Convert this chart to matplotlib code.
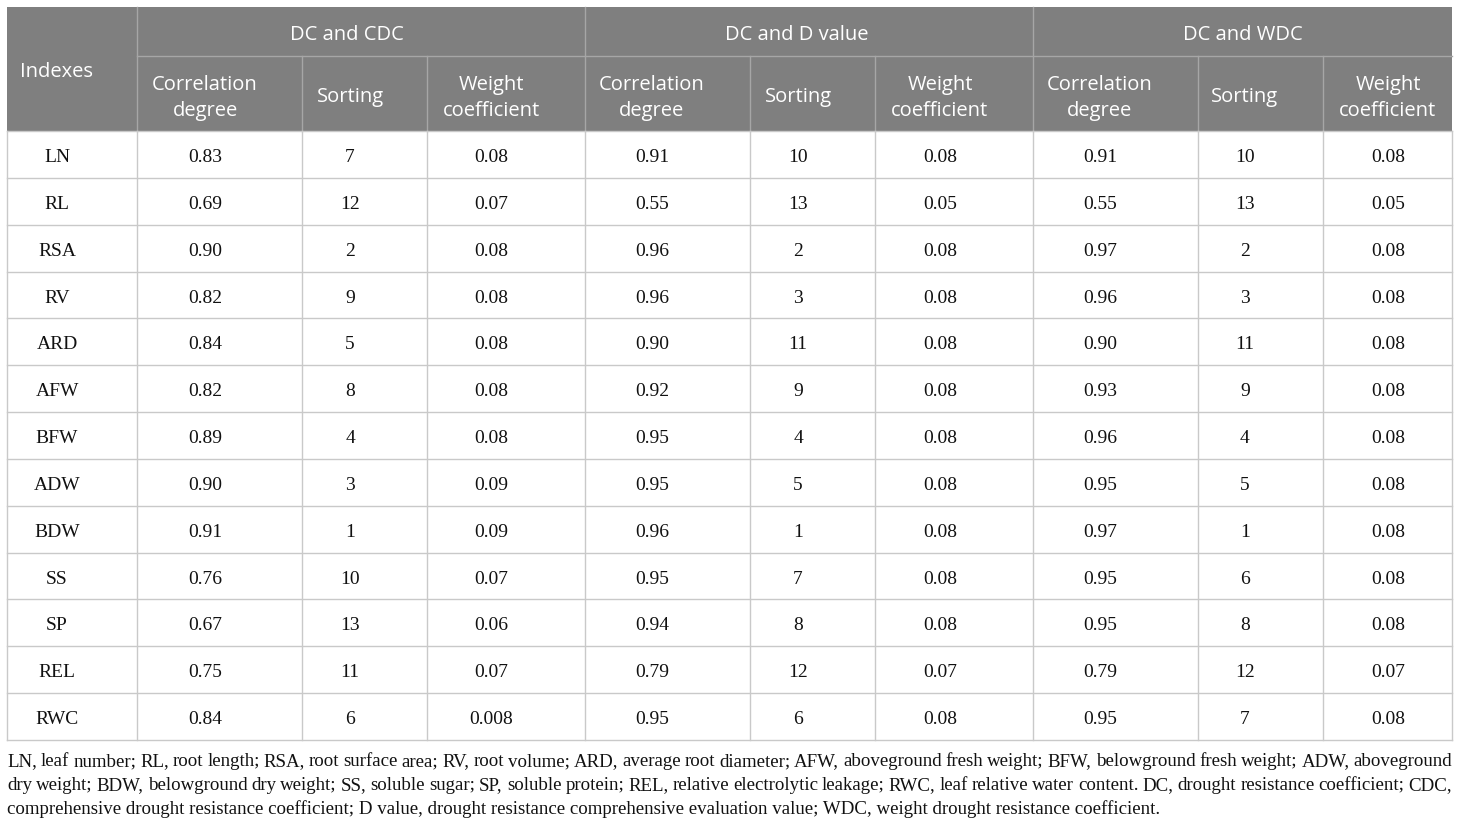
import matplotlib
matplotlib.use("Agg")
import matplotlib.pyplot as plt
from matplotlib.patches import Rectangle

# ---------------- data ----------------
indexes = ["LN", "RL", "RSA", "RV", "ARD", "AFW", "BFW", "ADW", "BDW", "SS", "SP", "REL", "RWC"]
group_labels = ["DC and CDC", "DC and D value", "DC and WDC"]
sub_labels = [["Correlation", "degree"], ["Sorting"], ["Weight", "coefficient"]]

cdc_corr = ["0.83", "0.69", "0.90", "0.82", "0.84", "0.82", "0.89", "0.90", "0.91", "0.76", "0.67", "0.75", "0.84"]
cdc_sort = ["7", "12", "2", "9", "5", "8", "4", "3", "1", "10", "13", "11", "6"]
cdc_weight = ["0.08", "0.07", "0.08", "0.08", "0.08", "0.08", "0.08", "0.09", "0.09", "0.07", "0.06", "0.07", "0.008"]

d_corr = ["0.91", "0.55", "0.96", "0.96", "0.90", "0.92", "0.95", "0.95", "0.96", "0.95", "0.94", "0.79", "0.95"]
d_sort = ["10", "13", "2", "3", "11", "9", "4", "5", "1", "7", "8", "12", "6"]
d_weight = ["0.08", "0.05", "0.08", "0.08", "0.08", "0.08", "0.08", "0.08", "0.08", "0.08", "0.08", "0.07", "0.08"]

wdc_corr = ["0.91", "0.55", "0.97", "0.96", "0.90", "0.93", "0.96", "0.95", "0.97", "0.95", "0.95", "0.79", "0.95"]
wdc_sort = ["10", "13", "2", "3", "11", "9", "4", "5", "1", "6", "8", "12", "7"]
wdc_weight = ["0.08", "0.05", "0.08", "0.08", "0.08", "0.08", "0.08", "0.08", "0.08", "0.08", "0.08", "0.07", "0.08"]

footnote_lines = [
    "LN, leaf number; RL, root length; RSA, root surface area; RV, root volume; ARD, average root diameter; AFW, aboveground fresh weight; BFW, belowground fresh weight; ADW, aboveground",
    "dry weight; BDW, belowground dry weight; SS, soluble sugar; SP, soluble protein; REL, relative electrolytic leakage; RWC, leaf relative water content. DC, drought resistance coefficient; CDC,",
    "comprehensive drought resistance coefficient; D value, drought resistance comprehensive evaluation value; WDC, weight drought resistance coefficient.",
]

columns = [indexes, cdc_corr, cdc_sort, cdc_weight, d_corr, d_sort, d_weight, wdc_corr, wdc_sort, wdc_weight]

# ---------------- layout ----------------
W, H = 1460, 828
fig = plt.figure(figsize=(W / 100, H / 100), dpi=100)
ax = fig.add_axes([0, 0, 1, 1])
ax.set_xlim(0, W)
ax.set_ylim(H, 0)
ax.axis("off")

col_edges = [7, 137, 302, 427, 585, 750, 875, 1033, 1198, 1323, 1452]
text_cx = [57, 205, 350, 491, 652, 798, 940, 1100, 1245, 1388]
group_cx = [347, 797, 1243]
top, mid, hbot = 7.5, 57, 132
row_h = (741 - 132) / 13.0
bottom = hbot + row_h * len(indexes)

hdr_bg = "#7f7f7f"
hdr_line = "#a6a6a6"
body_line = "#c9c9c9"
txt_col = "#111111"
sans = ["Open Sans", "DejaVu Sans"]
serif = ["Liberation Serif", "DejaVu Serif"]
hfs = 14.5
bfs = 14

# header background
ax.add_patch(Rectangle((col_edges[0], top), col_edges[-1] - col_edges[0], hbot - top,
                       facecolor=hdr_bg, edgecolor="none", zorder=1))
# header lines
lw = 1.0
ax.plot([col_edges[1], col_edges[-1]], [mid, mid], color=hdr_line, lw=lw, zorder=2)
for i, x in enumerate(col_edges[1:-1], start=1):
    y0 = top if i in (1, 4, 7) else mid
    ax.plot([x, x], [y0, hbot], color=hdr_line, lw=lw, zorder=2)

# header texts
ax.text(text_cx[0], 77, "Indexes", ha="center", va="baseline", color="white",
        fontsize=hfs, family=sans, zorder=3)
for g, cx in enumerate(group_cx):
    ax.text(cx, 39.5, group_labels[g], ha="center", va="baseline", color="white",
            fontsize=hfs, family=sans, zorder=3)
    for s in range(3):
        cxx = text_cx[1 + g * 3 + s]
        lines = sub_labels[s]
        if len(lines) == 1:
            ax.text(cxx, 102, lines[0], ha="center", va="baseline", color="white",
                    fontsize=hfs, family=sans, zorder=3)
        else:
            ax.text(cxx, 90, lines[0], ha="center", va="baseline", color="white",
                    fontsize=hfs, family=sans, zorder=3)
            ax.text(cxx, 116, lines[1], ha="center", va="baseline", color="white",
                    fontsize=hfs, family=sans, zorder=3)

# body grid
for r in range(len(indexes) + 1):
    y = hbot + r * row_h
    ax.plot([col_edges[0], col_edges[-1]], [y, y], color=body_line, lw=lw, zorder=2)
for x in col_edges:
    ax.plot([x, x], [hbot, bottom], color=body_line, lw=lw, zorder=2)

# body text
for c, colvals in enumerate(columns):
    for r, v in enumerate(colvals):
        yc = hbot + (r + 0.5) * row_h
        ax.text(text_cx[c], yc + 6.6, v, ha="center", va="baseline", color=txt_col,
                fontsize=bfs, family=serif, zorder=3)

# footnote (justified)
fig.canvas.draw()
renderer = fig.canvas.get_renderer()


def text_width(s, fs):
    t = ax.text(0, 0, s, fontsize=fs, family=serif)
    w = t.get_window_extent(renderer).width
    t.remove()
    return w


left, right = 7, 1452
w14 = text_width(footnote_lines[2], 14)
ffs = 14 * (1163 - left) / w14
baselines = [766, 790, 814]
for i, line in enumerate(footnote_lines):
    if i < 2:
        words = line.split(" ")
        widths = [text_width(w, ffs) for w in words]
        gap = (right - left - sum(widths)) / (len(words) - 1)
        x = left
        for w, wd in zip(words, widths):
            ax.text(x, baselines[i], w, ha="left", va="baseline", fontsize=ffs,
                    family=serif, color=txt_col)
            x += wd + gap
    else:
        ax.text(left, baselines[i], line, ha="left", va="baseline", fontsize=ffs,
                family=serif, color=txt_col)

fig.savefig("out.png", dpi=100)
